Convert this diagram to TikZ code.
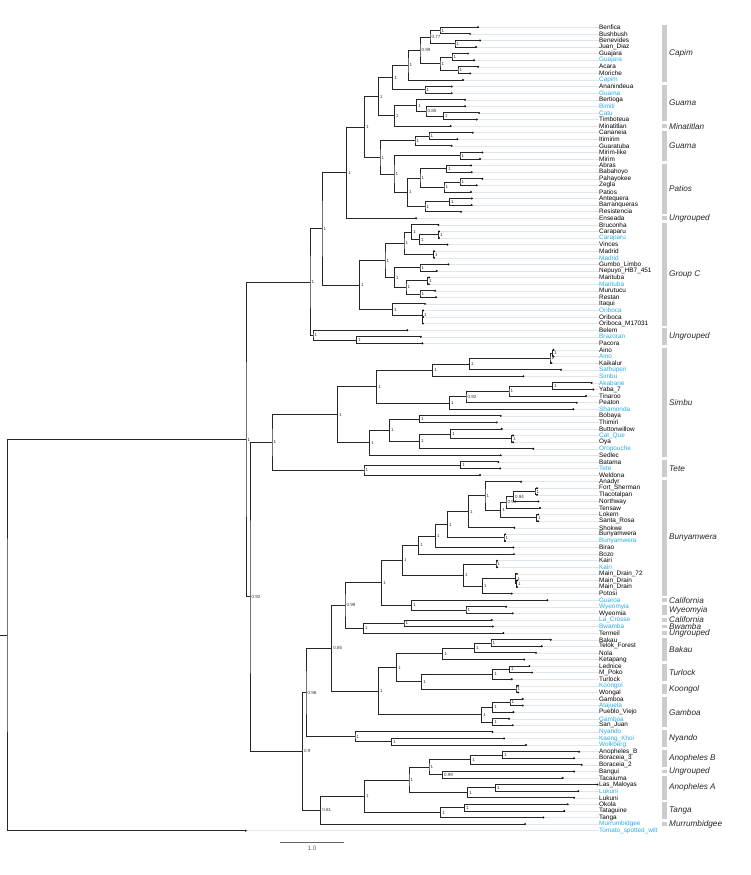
\documentclass[tikz,border=0pt]{standalone}
\usepackage{fontspec}
\setmainfont{Liberation Sans}
\usetikzlibrary{calc}
\definecolor{lblue}{RGB}{41,171,226}
\definecolor{barg}{RGB}{204,204,204}
\definecolor{leadg}{RGB}{225,230,235}
\tikzset{
  branch/.style={line width=.85pt, black!85},
  leader/.style={line width=.4pt, leadg},
  taxon/.style={anchor=west, inner sep=0pt, font=\fontsize{6.4}{7}\selectfont},
  support/.style={anchor=west, inner sep=0pt, xshift=1.5pt,
    font=\fontsize{4.5}{5}\selectfont, text=black!80},
  grpbar/.style={fill=barg},
  grplabel/.style={anchor=west, inner sep=0pt,
    font=\fontsize{8.2}{9}\selectfont\itshape, text=black!85},
  scalebar/.style={line width=1.4pt, black!60}
}
% clade: name, x, upper child, lower child, support
\newcommand\clade[5]{%
  \coordinate (#1-m) at ($(#3)!.5!(#4)$);
  \coordinate (#1) at (#2,0 |- #1-m);
  \draw[branch] (#3) -| (#1) |- (#4);
  \node[support] (s-#1) at (#1) {#5};
}

\begin{document}
\begin{tikzpicture}[x=1pt, y=-1pt]
\useasboundingbox (0,0) rectangle (750,875);

% tips, leader lines, names
\foreach \i/\x/\lab/\col in {
  1/478/Benfica/black, 2/470/Bushbush/black, 3/480/Benevides/black,
  4/476/Juan\_Diaz/black, 5/468/Guajara/black, 6/474/Guajara/lblue,
  7/478/Acara/black, 8/470/Moriche/black, 9/463/Capim/lblue,
  10/451.7/Ananindeua/black, 11/451.7/Guama/lblue, 12/465/Bertioga/black,
  13/465/Bimiti/lblue, 14/479/Catu/lblue, 15/476.7/Timboteua/black,
  16/450.7/Minatitlan/black, 17/472.7/Cananeia/black, 18/457.3/Itimirim/black,
  19/451.7/Guaratuba/black, 20/482.3/Mirim-like/black, 21/480/Mirim/black,
  22/471/Abras/black, 23/471.7/Babahoyo/black, 24/482.3/Pahayokee/black,
  25/476.7/Zegla/black, 26/471/Patios/black, 27/471.7/Antequera/black,
  28/471.7/Barranqueras/black, 29/461/Resistencia/black, 30/416/Enseada/black,
  31/438.3/Bruconha/black, 32/439/Caraparu/black, 33/439/Caraparu/lblue,
  34/447.3/Vinces/black, 35/434/Madrid/black, 36/434/Madrid/lblue,
  37/448.3/Gumbo\_Limbo/black, 38/436.7/Nepuyo\_HB7\_451/black,
  39/429/Marituba/black, 40/429/Marituba/lblue, 41/435/Murutucu/black,
  42/436/Restan/black, 43/425/Itaqui/black, 44/423/Oriboca/lblue,
  45/423/Oriboca/black, 46/423/Oriboca\_M17031/black, 47/407.3/Belem/black,
  48/420.7/Brazoran/lblue, 49/422.3/Pacora/black, 50/553.5/Aino/black,
  51/553.5/Aino/lblue, 52/551.5/Kaikalur/black, 53/561/Sathuperi/lblue,
  54/523.3/Simbu/lblue, 55/591.7/Akabane/lblue, 56/593.3/Yaba\_7/black,
  57/586/Tinaroo/black, 58/576.7/Peaton/black, 59/573.3/Shamonda/lblue,
  60/500.7/Bobaya/black, 61/496.7/Thimiri/black, 62/501.7/Buttonwillow/black,
  63/513/Cat\_Que/lblue, 64/513/Oya/black, 65/533.3/Oropouche/lblue,
  66/500.7/Sedlec/black, 67/498.3/Batama/black, 68/500/Tete/lblue,
  69/480/Weldona/black, 70/521/Anadyr/black, 71/537/Fort\_Sherman/black,
  72/537/Tlacotalpan/black, 73/538.3/Northway/black, 74/540/Tensaw/black,
  75/538/Lokern/black, 76/538/Santa\_Rosa/black, 77/514.3/Shokwe/black,
  78/505/Bunyamwera/black, 79/505/Bunyamwera/lblue, 80/513.3/Birao/black,
  81/514/Bozo/black, 82/497/Kairi/black, 83/497/Kairi/lblue,
  84/517/Main\_Drain\_72/black, 85/517/Main\_Drain/black,
  86/517/Main\_Drain/black, 87/511.7/Potosi/black, 88/547.3/Guaroa/lblue,
  89/506/Wyeomyia/lblue, 90/512.7/Wyeomia/black, 91/491.7/La\_Crosse/lblue,
  92/492.7/Bwamba/lblue, 93/503.3/Termeil/black, 94/550.7/Bakau/black,
  95/541.7/Telok\_Forest/black, 96/536/Nola/black, 97/524/Ketapang/black,
  98/529.3/Lednice/black, 99/532/M\_Poko/black, 100/511.7/Turlock/black,
  101/518/Koongol/lblue, 102/518/Wongal/black, 103/522.7/Gamboa/black,
  104/522.7/Alajuela/lblue, 105/513.3/Pueblo\_Viejo/black,
  106/509/Gamboa/lblue, 107/512.7/San\_Juan/black, 108/492.3/Nyando/lblue,
  109/504/Kaeng\_Khoi/lblue, 110/526/Wolkberg/lblue,
  111/579/Anopheles\_B/black, 112/574/Boraceia\_3/black,
  113/581.7/Boraceia\_2/black, 114/574/Bangui/black, 115/562.7/Tacaiuma/black,
  116/597.3/Las\_Maloyas/black, 117/578.3/Lukuni/lblue, 118/574/Lukuni/black,
  119/567.7/Okola/black, 120/564.3/Tataguine/black, 121/543.3/Tanga/black,
  122/525/Murrumbidgee/lblue, 123/245.7/Tomato\_spotted\_wilt/lblue}{
  \pgfmathsetmacro\yy{27.3+(\i-1)*6.585}
  \coordinate (t\i) at (\x,\yy);
  \node[taxon, text=\col] (l\i) at (599,\yy) {\lab};
  \draw[leader] (t\i) -- (l\i.west);
  \fill (t\i) circle (1.1pt);
}

% group bars
\foreach \a/\b/\g in {1/9/Capim, 10/15/Guama, 16/16/Minatitlan, 17/21/Guama,
  22/29/Patios, 30/30/Ungrouped, 31/46/Group C, 47/49/Ungrouped, 50/66/Simbu,
  67/69/Tete, 70/87/Bunyamwera, 88/88/California, 89/90/Wyeomyia,
  91/91/California, 92/92/Bwamba, 93/93/Ungrouped, 94/97/Bakau, 98/100/Turlock,
  101/102/Koongol, 103/107/Gamboa, 108/110/Nyando, 111/113/Anopheles B,
  114/114/Ungrouped, 115/118/Anopheles A, 119/121/Tanga,
  122/122/Murrumbidgee}{
  \pgfmathsetmacro\ya{27.3+(\a-1)*6.585-1.9}
  \pgfmathsetmacro\yb{27.3+(\b-1)*6.585+1.9}
  \fill[grpbar] (661.7,\ya) rectangle (666.7,\yb);
  \node[grplabel] (g\a) at (669,{(\ya+\yb)/2}) {\g};
}

% Capim, Guama, Patios
\clade{ben}{440}{t1}{t2}{1}
\clade{jua}{455}{t3}{t4}{1}
\clade{guaj}{452}{t5}{t6}{1}
\clade{aca}{458}{t7}{t8}{1}
\clade{bj}{430}{ben}{jua}{0.77}
\clade{ga}{440}{guaj}{aca}{1}
\clade{capa}{420}{bj}{ga}{0.99}
\clade{capim}{408}{capa}{t9}{1}
\clade{anag}{425}{t10}{t11}{1}
\clade{cg}{392.7}{capim}{anag}{1}
\clade{cats}{443.3}{t14}{t15}{1}
\clade{bim}{426}{t13}{cats}{0.85}
\clade{bert}{416.7}{t12}{bim}{1}
\clade{guama}{394.3}{bert}{t16}{1}
\clade{cgb}{378.3}{cg}{guama}{1}
\clade{ita}{429}{t17}{t18}{1}
\clade{guab}{415}{ita}{t19}{1}
\clade{mir}{460}{t20}{t21}{1}
\clade{aba}{446.7}{t22}{t23}{1}
\clade{pah}{460}{t24}{t25}{1}
\clade{pat}{444}{pah}{t26}{1}
\clade{patb}{420}{aba}{pat}{1}
\clade{ant}{449.3}{t27}{t28}{1}
\clade{antb}{425}{ant}{t29}{1}
\clade{patc}{407.3}{patb}{antb}{1}
\clade{patd}{394}{mir}{patc}{1}
\clade{guac}{380}{guab}{patd}{1}
\clade{capall}{364.3}{cgb}{guac}{1}
\clade{capens}{346.7}{capall}{t30}{1}

% Group C
\clade{car}{438.3}{t32}{t33}{1}
\clade{carb}{419.3}{car}{t34}{1}
\clade{bru}{411.7}{t31}{carb}{1}
\clade{mad}{433.3}{t35}{t36}{1}
\clade{brub}{404}{bru}{mad}{1}
\clade{gum}{420}{t37}{t38}{1}
\clade{mar}{427.7}{t39}{t40}{1}
\clade{muru}{420}{t41}{t42}{1}
\clade{marb}{406}{mar}{muru}{1}
\clade{gumb}{394.3}{gum}{marb}{1}
\clade{gca}{385}{brub}{gumb}{1}
\clade{oria}{422.6}{t45}{t46}{}
\clade{ori}{422.3}{t44}{oria}{1}
\clade{itab}{392.3}{t43}{ori}{1}
\clade{groupc}{359.3}{gca}{itab}{1}
\clade{braz}{356.7}{t48}{t49}{1}
\clade{cgc}{322}{capens}{groupc}{1}
\clade{bel}{313}{t47}{braz}{1}
\clade{orth}{310}{cgc}{bel}{1}

% Simbu, Tete
\clade{aina}{552.5}{t50}{t51}{1}
\clade{ain}{550}{aina}{t52}{1}
\clade{sat}{469.3}{ain}{t53}{1}
\clade{sim}{432.7}{sat}{t54}{1}
\clade{aka}{552.7}{t55}{t56}{1}
\clade{akab}{509}{aka}{t57}{1}
\clade{akac}{466}{akab}{t58}{0.92}
\clade{sha}{449.3}{akac}{t59}{1}
\clade{sima}{376.7}{sim}{sha}{1}
\clade{bob}{419.3}{t60}{t61}{1}
\clade{cat}{511.7}{t63}{t64}{1}
\clade{but}{450.7}{t62}{cat}{1}
\clade{oro}{419.3}{but}{t65}{1}
\clade{bobb}{389.3}{bob}{oro}{1}
\clade{sed}{369.3}{bobb}{t66}{1}
\clade{simbu}{337.3}{sima}{sed}{1}
\clade{bat}{460.7}{t67}{t68}{1}
\clade{tete}{364}{bat}{t69}{1}
\clade{st}{272}{simbu}{tete}{1}

% Bunyamwera and relatives
\clade{fs}{535}{t71}{t72}{1}
\clade{nw}{513.3}{fs}{t73}{0.94}
\clade{ten}{506}{nw}{t74}{0.94}
\clade{lok}{536.7}{t75}{t76}{1}
\clade{tenb}{500.7}{ten}{lok}{1}
\clade{ana}{485}{t70}{tenb}{1}
\clade{sho}{468.3}{ana}{t77}{1}
\clade{bun}{504}{t78}{t79}{1}
\clade{bunb}{447.3}{sho}{bun}{1}
\clade{bir}{435.3}{bunb}{t80}{1}
\clade{boz}{418.7}{bir}{t81}{1}
\clade{kai}{496}{t82}{t83}{1}
\clade{mda}{516.3}{t85}{t86}{1}
\clade{md}{515.7}{t84}{mda}{1}
\clade{pot}{482.3}{md}{t87}{1}
\clade{kaib}{463.3}{kai}{pot}{1}
\clade{buna}{402.3}{boz}{kaib}{1}
\clade{wye}{466}{t89}{t90}{1}
\clade{guar}{411.7}{t88}{wye}{1}
\clade{bunc}{381.7}{buna}{guar}{1}
\clade{lac}{404}{t91}{t92}{1}
\clade{ter}{363.3}{lac}{t93}{1}
\clade{bund}{345}{bunc}{ter}{0.99}
\clade{bak}{491}{t94}{t95}{1}
\clade{nol}{474.3}{bak}{t96}{1}
\clade{ket}{442.7}{nol}{t97}{1}
\clade{led}{509.3}{t98}{t99}{1}
\clade{tur}{492.7}{led}{t100}{1}
\clade{koo}{516}{t101}{t102}{1}
\clade{turb}{421.7}{tur}{koo}{1}
\clade{bakb}{396.7}{ket}{turb}{1}
\clade{gam}{510}{t103}{t104}{1}
\clade{pue}{492.7}{gam}{t105}{1}
\clade{san}{492.7}{t106}{t107}{1}
\clade{gamb}{481.7}{pue}{san}{1}
\clade{bakc}{378.3}{bakb}{gamb}{1}
\clade{bune}{331.7}{bund}{bakc}{0.85}
\clade{kae}{391.7}{t109}{t110}{1}
\clade{nya}{355}{t108}{kae}{1}
\clade{bunf}{306}{bune}{nya}{0.96}

% Anopheles, Tanga, Murrumbidgee
\clade{ano}{502.7}{t111}{t112}{1}
\clade{bor}{470.7}{ano}{t113}{1}
\clade{ban}{442.3}{t114}{t115}{0.99}
\clade{anob}{429}{bor}{ban}{1}
\clade{las}{495.7}{t116}{t117}{1}
\clade{luk}{467.7}{las}{t118}{1}
\clade{anoc}{409}{anob}{luk}{1}
\clade{oko}{464.3}{t119}{t120}{1}
\clade{tan}{440.7}{oko}{t121}{1}
\clade{anod}{364.3}{anoc}{tan}{1}
\clade{murr}{320.7}{anod}{t122}{0.81}
\clade{bung}{302.3}{bunf}{murr}{0.9}

% backbone
\clade{nd}{250}{st}{bung}{0.92}
\clade{ingroup}{246}{orth}{nd}{1}
\clade{root}{7}{ingroup}{t123}{}
\coordinate (stub) at (0,0 |- root);
\draw[branch] (stub) -- (root);

% scale
\coordinate (sb-l) at (280,842.7);
\coordinate (sb-r) at (344,842.7);
\draw[scalebar] (sb-l) -- (sb-r)
  node[midway, below=2.5pt, inner sep=0pt, font=\fontsize{6.4}{7}\selectfont] (sb-lab) {1.0};
\end{tikzpicture}
\end{document}
